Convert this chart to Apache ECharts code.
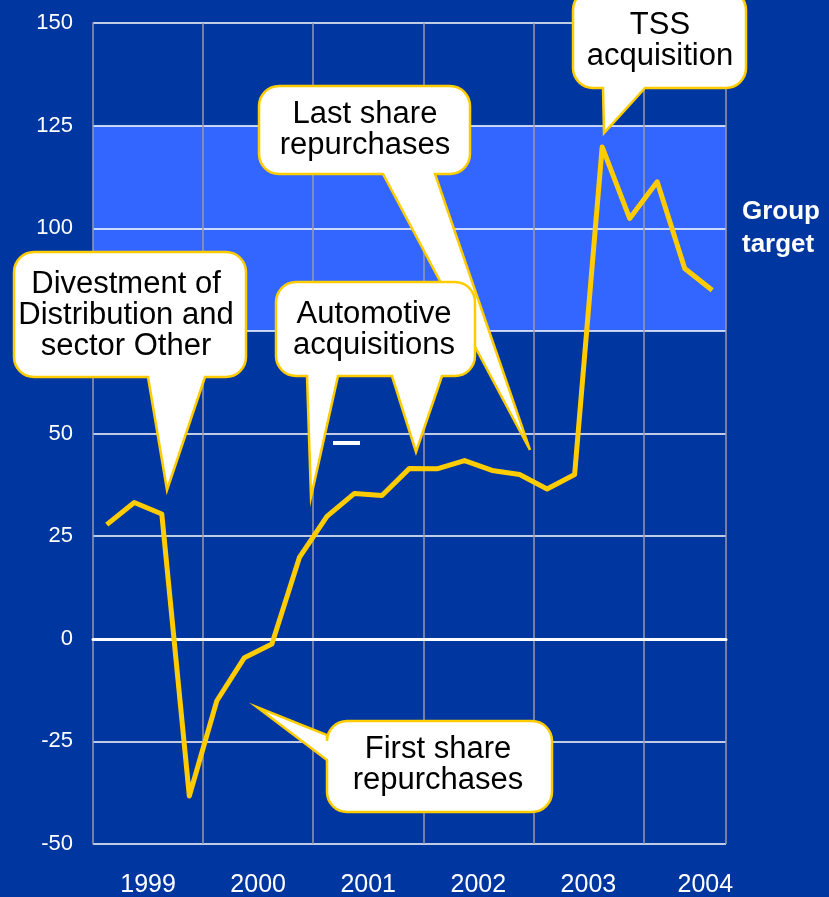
<!DOCTYPE html>
<html>
<head>
<meta charset="utf-8">
<script src="https://cdn.jsdelivr.net/npm/echarts@6/dist/echarts.min.js"></script>
<style>
	html, body { margin: 0; padding: 0; background: #0036a0; }
	#main { width: 829px; height: 897px; }
</style>
</head>
<body>
<div id="main"></div>
<script>
// quarterly data, Q1 1999 .. Q3 2004
var quarters = ['1999Q1', '1999Q2', '1999Q3', '1999Q4', '2000Q1', '2000Q2', '2000Q3', '2000Q4',
	'2001Q1', '2001Q2', '2001Q3', '2001Q4', '2002Q1', '2002Q2', '2002Q3', '2002Q4',
	'2003Q1', '2003Q2', '2003Q3', '2003Q4', '2004Q1', '2004Q2', '2004Q3'];
var values = [27.8, 33.2, 30.4, -38.3, -15.1, -4.6, -1.3, 19.8, 29.8, 35.4, 34.9, 41.5,
	41.4, 43.4, 41, 40, 36.5, 40, 119.8, 102.4, 111.3, 90.2, 84.9];
var targetBand = [75, 125];
var yearLabels = ['1999', '2000', '2001', '2002', '2003', '2004'];
var yearTicks = [2, 6, 10, 14, 18, 22.25];

var FONT = 'Liberation Sans, Arial, sans-serif';

// rounded box with pointer tails, returns polygon points
function bubble(x, y, w, h, r, bottomTails, leftTails) {
	var x1 = x + w, y1 = y + h, pts = [];
	function arc(cx, cy, a0, a1) {
		for (var i = 0; i <= 8; i++) {
			var a = (a0 + (a1 - a0) * i / 8) * Math.PI / 180;
			pts.push([cx + r * Math.cos(a), cy + r * Math.sin(a)]);
		}
	}
	arc(x1 - r, y + r, -90, 0);
	arc(x1 - r, y1 - r, 0, 90);
	(bottomTails || []).forEach(function (t) {
		pts.push([t[1], y1], [t[2], t[3]], [t[0], y1]);
	});
	arc(x + r, y1 - r, 90, 180);
	(leftTails || []).forEach(function (t) {
		pts.push([x, t[1]], [t[2], t[3]], [x, t[0]]);
	});
	arc(x + r, y + r, 180, 270);
	return {
		type: 'polygon', z: 10,
		shape: { points: pts },
		style: { fill: '#fff', stroke: '#ffcc00', lineWidth: 2.5 }
	};
}

function label(cx, cy, text) {
	return {
		type: 'text', z: 11, x: cx, y: cy,
		style: {
			text: text, fill: '#000', fontSize: 31, fontFamily: FONT, lineHeight: 31,
			textAlign: 'center', textVerticalAlign: 'middle', align: 'center', verticalAlign: 'middle'
		}
	};
}

var myChart = echarts.init(document.getElementById('main'));
var option = {
	backgroundColor: '#0036a0',
	animation: false,
	grid: { left: 93, right: 103, top: 23, bottom: 53, outerBoundsMode: 'none' },
	xAxis: [{
		type: 'category',
		data: quarters,
		boundaryGap: true,
		z: 2,
		axisLine: { onZero: true, lineStyle: { color: '#fff', width: 3 } },
		axisTick: { show: false },
		axisLabel: { show: false },
		splitLine: {
			show: true,
			interval: function (i) { return i > 0 && i < quarters.length && i % 4 === 0; },
			lineStyle: { color: '#9a9aa8', width: 1.5 }
		}
	}, {
		type: 'value',
		position: 'bottom',
		min: 0,
		max: quarters.length,
		interval: 0.25,
		axisLine: { show: false },
		axisTick: { show: false },
		splitLine: { show: false },
		axisLabel: {
			color: '#fff', fontSize: 25, fontFamily: FONT, margin: 29,
			showMinLabel: true, showMaxLabel: true,
			formatter: function (v) {
				var k = yearTicks.indexOf(v);
				return k >= 0 ? yearLabels[k] : '';
			}
		}
	}],
	yAxis: {
		type: 'value',
		min: -50,
		max: 150,
		interval: 25,
		z: 2,
		axisLine: { show: true, lineStyle: { color: '#9a9aa8', width: 1.5 } },
		axisTick: { show: false },
		axisLabel: { color: '#fff', fontSize: 22, fontFamily: FONT, margin: 20 },
		splitLine: { lineStyle: { color: '#fff', width: 1.5 } }
	},
	series: [{
		type: 'line',
		data: values,
		z: 3,
		symbol: 'none',
		lineStyle: { color: '#ffcc00', width: 5, join: 'round' },
		markArea: {
			silent: true,
			z: 1,
			itemStyle: { color: '#3366ff' },
			data: [[{ yAxis: targetBand[0] }, { yAxis: targetBand[1] }]]
		}
	}],
	graphic: [
		bubble(259, 86, 211, 88, 20, [[383, 435, 530, 450]]),
		label(365, 130, 'Last share\nrepurchases'),
		bubble(14, 252, 232, 125, 20, [[148, 205, 167, 490]]),
		label(126, 315, 'Divestment of\nDistribution and\nsector Other'),
		bubble(276, 282, 199, 94, 20, [[392, 442, 416, 452], [307, 338, 311, 497]]),
		label(374, 330, 'Automotive\nacquisitions'),
		bubble(573, -10, 173, 98, 20, [[603, 645, 604, 133]]),
		label(660, 41, 'TSS\nacquisition'),
		bubble(327, 721, 225, 91, 20, null, [[735, 760, 257, 707]]),
		label(438, 765, 'First share\nrepurchases'),
		{ type: 'rect', z: 11, shape: { x: 333, y: 441, width: 27, height: 4 }, style: { fill: '#fff' } },
		{
			type: 'text', z: 11, x: 742, y: 228,
			style: {
				text: 'Group\ntarget', fill: '#fff', fontSize: 26, fontWeight: 'bold', fontFamily: FONT, lineHeight: 33,
				textAlign: 'left', textVerticalAlign: 'middle', align: 'left', verticalAlign: 'middle'
			}
		}
	]
};
myChart.setOption(option);
</script>
</body>
</html>
